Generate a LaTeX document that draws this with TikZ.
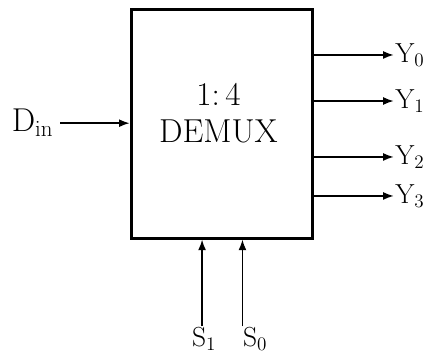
\documentclass[tikz,border=0pt]{standalone}
\usetikzlibrary{arrows.meta}
\tikzset{
  sig/.style={-{Latex[length=8pt,width=6pt]}, line width=1.2pt},
  outlbl/.style={anchor=west, inner sep=1pt, font=\fontsize{22}{26}\selectfont},
  sellbl/.style={inner sep=1pt, font=\fontsize{22}{26}\selectfont}
}
\begin{document}
\begin{tikzpicture}[x=1cm,y=1cm]
\useasboundingbox (0,0) rectangle (11.30,9.50);
\node[draw, line width=2.2pt, minimum width=4.79cm, minimum height=6.06cm] (demux) at (5.865,6.23) {};
\node[align=center, font=\fontsize{25}{28}\selectfont] (title) at (5.78,6.50) {1:\,4\\DEMUX};
\node[inner sep=1pt, font=\fontsize{26}{30}\selectfont] (din) at (0.86,6.24) {$\mathrm{D_{in}}$};
\node[outlbl] (y0) at (10.42,8.045) {$\mathrm{Y_0}$};
\node[outlbl] (y1) at (10.42,6.827) {$\mathrm{Y_1}$};
\node[outlbl] (y2) at (10.42,5.346) {$\mathrm{Y_2}$};
\node[outlbl] (y3) at (10.42,4.314) {$\mathrm{Y_3}$};
\node[sellbl] (s1) at (5.40,0.52) {$\mathrm{S_1}$};
\node[sellbl] (s0) at (6.75,0.52) {$\mathrm{S_0}$};
\draw[sig] ([xshift=4pt]din.east) -- (din.east -| demux.west);
\draw[sig] (demux.east |- y0) -- (y0);
\draw[sig] (demux.east |- y1) -- (y1);
\draw[sig] (demux.east |- y2) -- (y2);
\draw[sig] (demux.east |- y3) -- (y3);
\draw[sig] ([xshift=-1.5pt]s1.north) -- ([xshift=-1.5pt]s1.north |- demux.south);
\draw[sig] ([xshift=-9.5pt]s0.north) -- ([xshift=-9.5pt]s0.north |- demux.south);
\end{tikzpicture}
\end{document}
